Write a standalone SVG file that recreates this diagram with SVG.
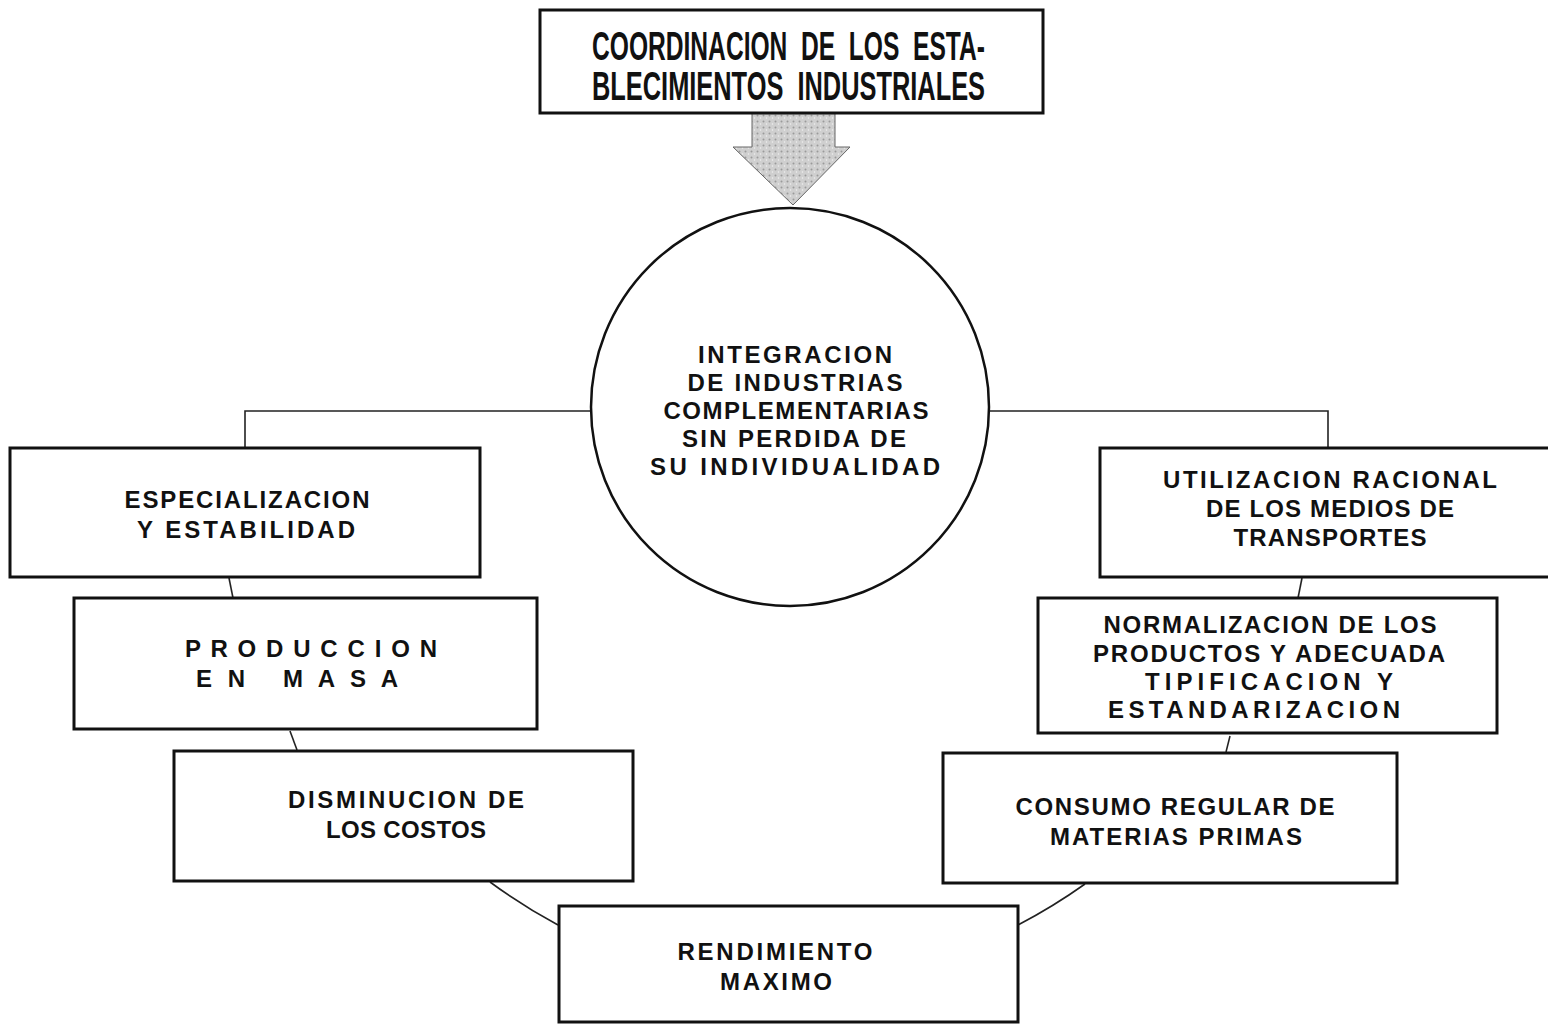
<svg xmlns="http://www.w3.org/2000/svg" width="1548" height="1026" viewBox="0 0 1548 1026">
<defs>
<pattern id="stip" width="6" height="6" patternUnits="userSpaceOnUse">
<rect width="6" height="6" fill="#cfcfcf"/>
<circle cx="1.5" cy="1.5" r="1" fill="#9a9a9a"/>
<circle cx="4.5" cy="4" r="0.8" fill="#f0f0f0"/>
</pattern>
</defs>
<style>
.box{fill:#fff;stroke:#111;stroke-width:3}
.ln{fill:none;stroke:#222;stroke-width:1.6}
.t{font-family:"Liberation Sans",Arial,sans-serif;font-weight:bold;font-size:24px;fill:#111;text-anchor:middle}
.top{font-family:"Liberation Sans",Arial,sans-serif;font-weight:bold;font-size:41px;fill:#111}
</style>
<rect width="1548" height="1026" fill="#fff"/>

<g id="connectors">
<path class="ln" d="M592 411 H245 V448"/>
<path class="ln" d="M988 411 H1328 V448"/>
<path class="ln" d="M229 578 L233 598"/>
<path class="ln" d="M290 731 L297 750"/>
<path class="ln" d="M1302 578 L1298 598"/>
<path class="ln" d="M1230 736 L1226 752"/>
<path class="ln" d="M490 882 A565 565 0 0 0 558 925"/>
<path class="ln" d="M1085 884 A565 565 0 0 1 1018 925"/>
</g>

<g id="arrow">
<path d="M752 113 H835 V147 H850 L793 205 L733 147 H752 Z" fill="url(#stip)" stroke="#666" stroke-width="1"/>
</g>

<g id="coordinacion">
<rect class="box" x="540" y="10" width="503" height="103"/>
<text class="top" x="592" y="60" xml:space="preserve" textLength="393" lengthAdjust="spacingAndGlyphs">COORDINACION  DE  LOS  ESTA-</text>
<text class="top" x="592" y="100" xml:space="preserve" textLength="393" lengthAdjust="spacingAndGlyphs">BLECIMIENTOS  INDUSTRIALES</text>
</g>

<g id="integracion">
<circle cx="790" cy="407" r="199" fill="#fff" stroke="#111" stroke-width="2.5"/>
<text class="t" x="795" y="363" textLength="194">INTEGRACION</text>
<text class="t" x="795" y="391" textLength="215">DE INDUSTRIAS</text>
<text class="t" x="796" y="419" textLength="265">COMPLEMENTARIAS</text>
<text class="t" x="794" y="447" textLength="224">SIN PERDIDA DE</text>
<text class="t" x="795" y="475" textLength="290">SU INDIVIDUALIDAD</text>
</g>

<g id="especializacion">
<rect class="box" x="10" y="448" width="470" height="129"/>
<text class="t" x="247" y="508" textLength="245">ESPECIALIZACION</text>
<text class="t" x="246" y="538" textLength="218">Y ESTABILIDAD</text>
</g>

<g id="produccion">
<rect class="box" x="74" y="598" width="463" height="131"/>
<text class="t" x="311" y="657" textLength="252">P R O D U C C I O N</text>
<text class="t" x="297" y="687" xml:space="preserve" textLength="202">E N   M A S A</text>
</g>

<g id="disminucion">
<rect class="box" x="174" y="751" width="459" height="130"/>
<text class="t" x="406" y="808" textLength="236">DISMINUCION DE</text>
<text class="t" x="406" y="838" textLength="160">LOS COSTOS</text>
</g>

<g id="rendimiento">
<rect class="box" x="559" y="906" width="459" height="116"/>
<text class="t" x="775" y="960" textLength="195">RENDIMIENTO</text>
<text class="t" x="776" y="990" textLength="112">MAXIMO</text>
</g>

<g id="utilizacion">
<rect class="box" x="1100" y="448" width="452" height="129"/>
<text class="t" x="1330" y="488" textLength="334">UTILIZACION RACIONAL</text>
<text class="t" x="1330" y="517" textLength="248">DE LOS MEDIOS DE</text>
<text class="t" x="1330" y="546" textLength="193">TRANSPORTES</text>
</g>

<g id="normalizacion">
<rect class="box" x="1038" y="598" width="459" height="135"/>
<text class="t" x="1270" y="633" textLength="333">NORMALIZACION DE LOS</text>
<text class="t" x="1269" y="662" textLength="352">PRODUCTOS Y ADECUADA</text>
<text class="t" x="1269" y="690" textLength="248">TIPIFICACION Y</text>
<text class="t" x="1254" y="718" textLength="292">ESTANDARIZACION</text>
</g>

<g id="consumo">
<rect class="box" x="943" y="753" width="454" height="130"/>
<text class="t" x="1175" y="815" textLength="319">CONSUMO REGULAR DE</text>
<text class="t" x="1176" y="845" textLength="252">MATERIAS PRIMAS</text>
</g>
</svg>
